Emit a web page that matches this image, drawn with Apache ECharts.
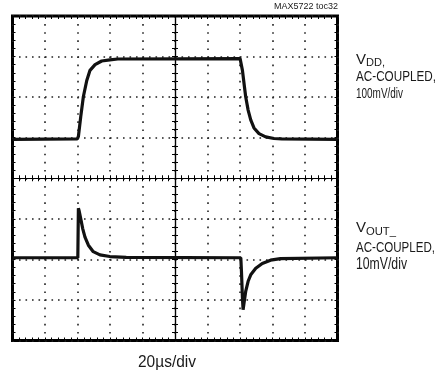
<!DOCTYPE html>
<html>
<head>
<meta charset="utf-8">
<script src="https://cdn.jsdelivr.net/npm/echarts@6/dist/echarts.min.js"></script>
<style>
  html, body { margin: 0; padding: 0; background: #fff; }
  #chart { width: 439px; height: 375px; }
</style>
</head>
<body>
<div id="chart"></div>
<script>
// time in µs from screen centre (20µs/div), level in divisions from centre
const vddTime = [-100, -60.1, -59.45, -58, -56.4, -54.3, -52.3, -49.2, -45.1, -40.1, -35.2, 40.06, 41.5, 42.5, 43.5, 45, 46.6, 48.6, 51.7, 55.8, 60.9, 65.7, 100];
const vddLevel = [0.96, 0.97, 1.03, 1.52, 2.01, 2.41, 2.66, 2.80, 2.89, 2.92, 2.94, 2.95, 2.66, 2.33, 2.01, 1.68, 1.44, 1.24, 1.10, 1.02, 0.98, 0.97, 0.96];
const voutTime = [-100, -59.8, -59.45, -59, -58, -56.8, -55.4, -53.3, -50.3, -46.2, -40.1, -30, 40.5, 40.9, 41.5, 41.9, 42.5, 43.5, 45, 46.6, 49.7, 53.7, 58.8, 64.9, 100];
const voutLevel = [-1.96, -1.96, -0.74, -0.80, -1.00, -1.24, -1.45, -1.65, -1.81, -1.89, -1.93, -1.95, -1.96, -2.30, -2.95, -3.24, -3.07, -2.79, -2.54, -2.38, -2.22, -2.10, -2.02, -1.98, -1.96];

const family = "'Liberation Sans', Arial, sans-serif";
const chart = echarts.init(document.getElementById("chart"));

// no narrow font installed, so squeeze each label to the width it has in the scan
const ctx = document.createElement("canvas").getContext("2d");
function label(text, size, x, yMid, width) {
  const font = size + "px " + family;
  ctx.font = font;
  const w = ctx.measureText(text).width;
  return {
    type: "text",
    x: x,
    y: yMid,
    scaleX: width / w,
    style: { text: text, font: font, fill: "#1a1a1a", align: "left", verticalAlign: "middle" },
  };
}

// edge and centre axes; only the first of each draws the dotted graticule
function timeAxis(position, onZero, split) {
  return {
    type: "value",
    min: -100,
    max: 100,
    interval: 20,
    position: position,
    axisLine: { show: onZero, onZero: onZero, onZeroAxisIndex: 0, lineStyle: { color: "#000", width: 1.2 } },
    axisTick: { show: true, inside: !onZero, length: 3, lineStyle: { color: "#000", width: 1 } },
    minorTick: { show: true, splitNumber: 5, length: 3, lineStyle: { color: "#000", width: 1 } },
    axisLabel: { show: false },
    splitLine: { show: split, lineStyle: { color: "#222", width: 1.6, type: [1.6, 6.5] } },
  };
}
function levelAxis(position, onZero, split) {
  return {
    type: "value",
    min: -4,
    max: 4,
    interval: 1,
    position: position,
    axisLine: { show: onZero, onZero: onZero, onZeroAxisIndex: 0, lineStyle: { color: "#000", width: 1.2 } },
    axisTick: { show: true, inside: !onZero, length: 3, lineStyle: { color: "#000", width: 1 } },
    minorTick: { show: true, splitNumber: 5, length: 3, lineStyle: { color: "#000", width: 1 } },
    axisLabel: { show: false },
    splitLine: { show: split, lineStyle: { color: "#222", width: 1.6, type: [1.6, 4.9] } },
  };
}

const option = {
  animation: false,
  grid: {
    left: 12.5,
    top: 16,
    width: 325,
    height: 324.5,
    show: true,
    borderColor: "#000",
    borderWidth: 3,
    containLabel: false,
  },
  xAxis: [
    timeAxis("bottom", false, true),
    timeAxis("top", false, false),
    timeAxis("bottom", true, false),
    timeAxis("top", true, false),
  ],
  yAxis: [
    levelAxis("left", false, true),
    levelAxis("right", false, false),
    levelAxis("left", true, false),
    levelAxis("right", true, false),
  ],
  series: [
    {
      name: "VDD",
      type: "line",
      showSymbol: false,
      lineStyle: { color: "#111", width: 3.2 },
      data: vddTime.map((t, i) => [t, vddLevel[i]]),
    },
    {
      name: "VOUT",
      type: "line",
      showSymbol: false,
      lineStyle: { color: "#111", width: 3.2 },
      data: voutTime.map((t, i) => [t, voutLevel[i]]),
    },
  ],
  graphic: [
    label("MAX5722 toc32", 9, 274, 7, 64),
    label("V", 15, 356, 59.5, 10),
    label("DD,", 10.5, 366, 63, 19),
    label("AC-COUPLED,", 14, 356, 77, 80),
    label("100mV/div", 14, 356, 94.5, 47),
    label("V", 15, 356, 227.5, 10),
    label("OUT_", 11, 366, 232, 30),
    label("AC-COUPLED,", 14, 356, 247.7, 79),
    label("10mV/div", 16, 356, 264.5, 51),
    label("20µs/div", 16, 138, 363, 58),
  ],
};
chart.setOption(option);
</script>
</body>
</html>
